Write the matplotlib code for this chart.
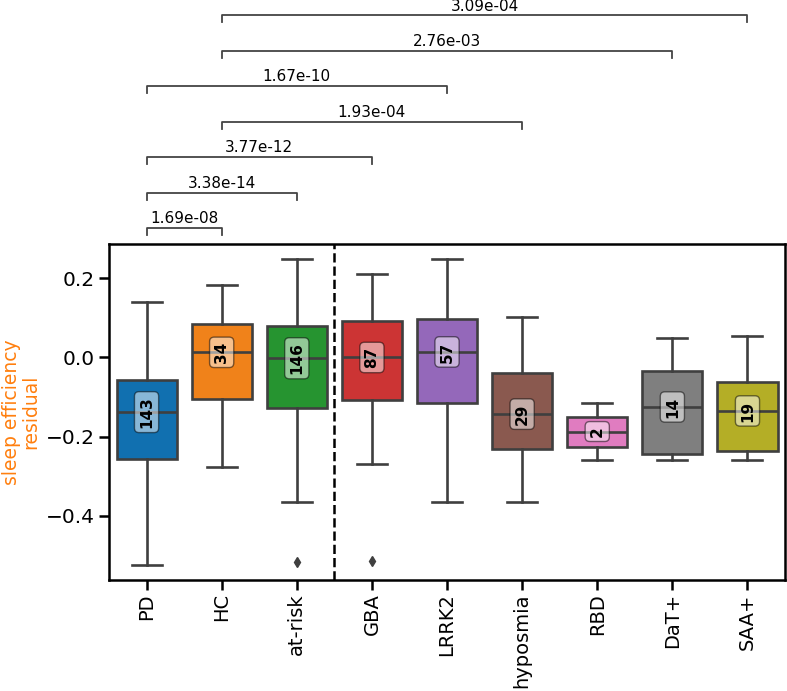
import matplotlib
matplotlib.use('Agg')
import matplotlib.pyplot as plt

# ---- data ----
groups = ['PD', 'HC', 'at-risk', 'GBA', 'LRRK2', 'hyposmia', 'RBD', 'DaT+', 'SAA+']
counts = [143, 34, 146, 87, 57, 29, 2, 14, 19]
medians = [-0.138, 0.013, -0.002, 0.000, 0.014, -0.143, -0.187, -0.125, -0.135]
q1 = [-0.257, -0.105, -0.128, -0.107, -0.115, -0.232, -0.226, -0.243, -0.236]
q3 = [-0.058, 0.084, 0.079, 0.092, 0.098, -0.040, -0.151, -0.034, -0.061]
whis_lo = [-0.523, -0.276, -0.366, -0.269, -0.366, -0.366, -0.259, -0.259, -0.259]
whis_hi = [0.139, 0.184, 0.249, 0.212, 0.249, 0.103, -0.116, 0.049, 0.054]
fliers = [[], [], [-0.516], [-0.515], [], [], [], [], []]

# pairwise comparisons (group a, group b, p-value), bottom to top
pairs = [('PD', 'HC', '1.69e-08'),
         ('PD', 'at-risk', '3.38e-14'),
         ('PD', 'GBA', '3.77e-12'),
         ('HC', 'hyposmia', '1.93e-04'),
         ('PD', 'LRRK2', '1.67e-10'),
         ('HC', 'DaT+', '2.76e-03'),
         ('HC', 'SAA+', '3.09e-04')]

colors = ['#1170b0', '#f0821a', '#269430', '#cc3434', '#9468ba',
          '#8a594f', '#e07cc0', '#7f7f7f', '#b4ae26']
edge = '#3f3f3f'

fig = plt.figure(figsize=(7.87, 6.91), dpi=100)
ax = fig.add_axes([0.1385, 0.1606, 0.859, 0.4863])

stats = []
for i, g in enumerate(groups):
    stats.append(dict(label=g, med=medians[i], q1=q1[i], q3=q3[i],
                      whislo=whis_lo[i], whishi=whis_hi[i], fliers=fliers[i]))

bp = ax.bxp(stats, positions=range(len(groups)), widths=0.8, patch_artist=True,
            boxprops=dict(edgecolor=edge, linewidth=1.9),
            medianprops=dict(color=edge, linewidth=1.9),
            whiskerprops=dict(color=edge, linewidth=1.9),
            capprops=dict(color=edge, linewidth=1.9),
            capwidths=0.4,
            flierprops=dict(marker='d', markerfacecolor=edge, markeredgecolor=edge,
                            markersize=5))
for patch, c in zip(bp['boxes'], colors):
    patch.set_facecolor(c)

# sample size labels on the medians
for i, n in enumerate(counts):
    ax.text(i, medians[i], str(n), rotation=90, ha='center', va='center',
            fontsize=11, fontweight='bold',
            bbox=dict(boxstyle='round,pad=0.3', facecolor='white', alpha=0.5))

ax.axvline(2.5, color='black', linestyle='--', linewidth=1.8)

ax.set_xlim(-0.5, 8.5)
ax.set_ylim(-0.562, 0.2866)
ax.set_yticks([-0.4, -0.2, 0.0, 0.2])
ax.set_xticks(range(len(groups)))
ax.set_xticklabels(groups, rotation=90)
ax.tick_params(labelsize=14.5, length=7, width=1.8)
ax.tick_params(axis='x', labelsize=14, pad=2.5)
for s in ax.spines.values():
    s.set_linewidth(1.8)
ax.set_ylabel('sleep efficiency\nresidual', color='tab:orange', fontsize=13.5,
              linespacing=1.0)

# significance brackets above the axes
base, step, tick = 0.327, 0.0896, 0.018
for k, (a, b, p) in enumerate(pairs):
    xa, xb = groups.index(a), groups.index(b)
    y = base + k * step
    ax.plot([xa, xa, xb, xb], [y - tick, y, y, y - tick], color='#444444',
            linewidth=1.3, clip_on=False)
    ax.text((xa + xb) / 2, y + 0.004, p, ha='center', va='bottom', fontsize=11)

fig.savefig('out.png', dpi=100)
